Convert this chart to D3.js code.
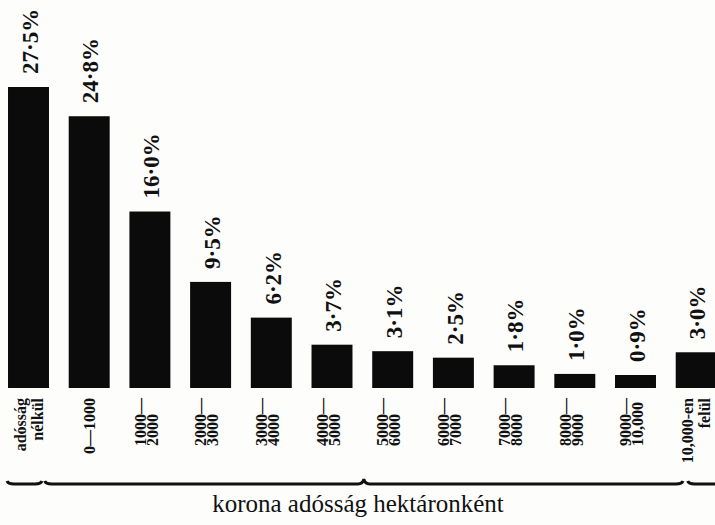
<!DOCTYPE html>
<html>
<head>
<meta charset="utf-8">
<script src="https://cdn.jsdelivr.net/npm/d3@7"></script>
<style>
  body { margin: 0; background: #fdfdfc; }
</style>
</head>
<body>
<div id="chart"></div>
<script>
// categories, each split into the lines as they are typeset under the bars
var categories = ["adósság nélkül", "0—1000", "1000—2000", "2000—3000", "3000—4000", "4000—5000",
                  "5000—6000", "6000—7000", "7000—8000", "8000—9000", "9000—10,000", "10,000-en felül"];
var catLines = [["adósság", "nélkül"], ["0—1000"], ["1000—", "2000"], ["2000—", "3000"], ["3000—", "4000"],
                ["4000—", "5000"], ["5000—", "6000"], ["6000—", "7000"], ["7000—", "8000"],
                ["8000—", "9000"], ["9000—", "10,000"], ["10,000-en", "felül"]];
// share of holdings, percent
var values = [27.5, 24.8, 16.0, 9.5, 6.2, 3.7, 3.1, 2.5, 1.8, 1.0, 0.9, 3.0];
var axisTitle = "korona adósság hektáronként";

var width = 715, height = 525;
var baseY = 388, catTop = 398, braceY = 484;

var svg = d3.select("#chart").append("svg")
    .attr("width", width)
    .attr("height", height);

// band scale, outer padding = half the inner so the step is range/12
var x = d3.scaleBand()
    .domain(categories)
    .range([-1.85, 726.55])
    .paddingInner(0.325)
    .paddingOuter(0.1625);

var y = d3.scaleLinear()
    .domain([-0.3, 27.5])
    .range([baseY, 87]);

// old style decimal point: raised dot
var fmt = function (v) { return d3.format(".1f")(v).replace(".", "·") + "%"; };

var data = categories.map(function (c, i) { return { cat: c, lines: catLines[i], value: values[i] }; });

// bars
svg.selectAll("rect.bar")
    .data(data)
    .enter()
    .append("rect")
    .attr("class", "bar")
    .attr("x", function (d) { return x(d.cat); })
    .attr("y", function (d) { return y(d.value); })
    .attr("width", x.bandwidth())
    .attr("height", function (d) { return y.range()[0] - y(d.value); })
    .style("fill", "#0b0b0b");

// value labels, rotated, sitting above each bar
svg.selectAll("text.val")
    .data(data)
    .enter()
    .append("text")
    .attr("class", "val")
    .attr("transform", function (d) {
        return "translate(" + (x(d.cat) + x.bandwidth() / 2 + 1) + "," + (y(d.value) - 13) + ") rotate(-90)";
    })
    .attr("dy", "0.36em")
    .style("font-family", "'Liberation Serif', serif")
    .style("font-weight", "bold")
    .style("font-size", "23px")
    .style("fill", "#111")
    .text(function (d) { return fmt(d.value); });

// category labels
var catFont = "16px";
function isNumeric(d) { return /—$/.test(d.lines[0]); }
function lineGap(d) { return isNumeric(d) ? 12 : 17; }

var cat = svg.selectAll("g.cat")
    .data(data)
    .enter()
    .append("g")
    .attr("class", "cat")
    .attr("transform", function (d) {
        var off = 0;
        if (d.lines.length > 1) off = (isNumeric(d) ? -4 : 0) - lineGap(d) / 2;
        return "translate(" + (x(d.cat) + x.bandwidth() / 2 + off) + "," + catTop + ") rotate(-90)";
    });

cat.each(function (d) {
    var g = d3.select(this);
    var first = g.append("text")
        .attr("text-anchor", "end")
        .attr("dy", "0.36em")
        .style("font-family", "'Liberation Serif', serif")
        .style("font-weight", "bold")
        .style("font-size", catFont)
        .style("fill", "#111")
        .text(d.lines[0]);
    if (d.lines.length > 1) {
        var numeric = isNumeric(d);
        var len = first.node().getComputedTextLength();
        g.append("text")
            .attr("text-anchor", numeric ? "start" : "end")
            .attr("x", numeric ? -len : 0)
            .attr("y", lineGap(d))
            .attr("dy", "0.36em")
            .style("font-family", "'Liberation Serif', serif")
            .style("font-weight", "bold")
            .style("font-size", catFont)
            .style("fill", "#111")
            .text(d.lines[1]);
    }
});

// braces under the category groups
function brace(a, b, tip) {
    var p = d3.path();
    p.moveTo(a, braceY - 3);
    p.quadraticCurveTo(a + 1, braceY, a + 7, braceY);
    if (tip) {
        var m = (a + b) / 2;
        p.lineTo(m - 6, braceY);
        p.quadraticCurveTo(m - 1, braceY, m, braceY - 5);
        p.quadraticCurveTo(m + 1, braceY, m + 6, braceY);
    }
    p.lineTo(b - 7, braceY);
    p.quadraticCurveTo(b - 1, braceY, b, braceY - 3);
    return p.toString();
}

var bw = x.bandwidth();
var braces = [
    [x(categories[0]) - 1, x(categories[0]) + bw - 7, false],
    [x(categories[1]) - 24, x(categories[10]) + bw + 27, true],
    [x(categories[11]) + 12, width + 8, false]
];

svg.selectAll("path.brace")
    .data(braces)
    .enter()
    .append("path")
    .attr("class", "brace")
    .attr("d", function (d) { return brace(d[0], d[1], d[2]); })
    .style("fill", "none")
    .style("stroke", "#111")
    .style("stroke-width", 3);

// axis title
svg.append("text")
    .attr("x", 358)
    .attr("y", 512)
    .attr("text-anchor", "middle")
    .style("font-family", "'Liberation Serif', 'Times New Roman', serif")
    .style("font-size", "25px")
    .style("fill", "#111")
    .text(axisTitle);
</script>
</body>
</html>
